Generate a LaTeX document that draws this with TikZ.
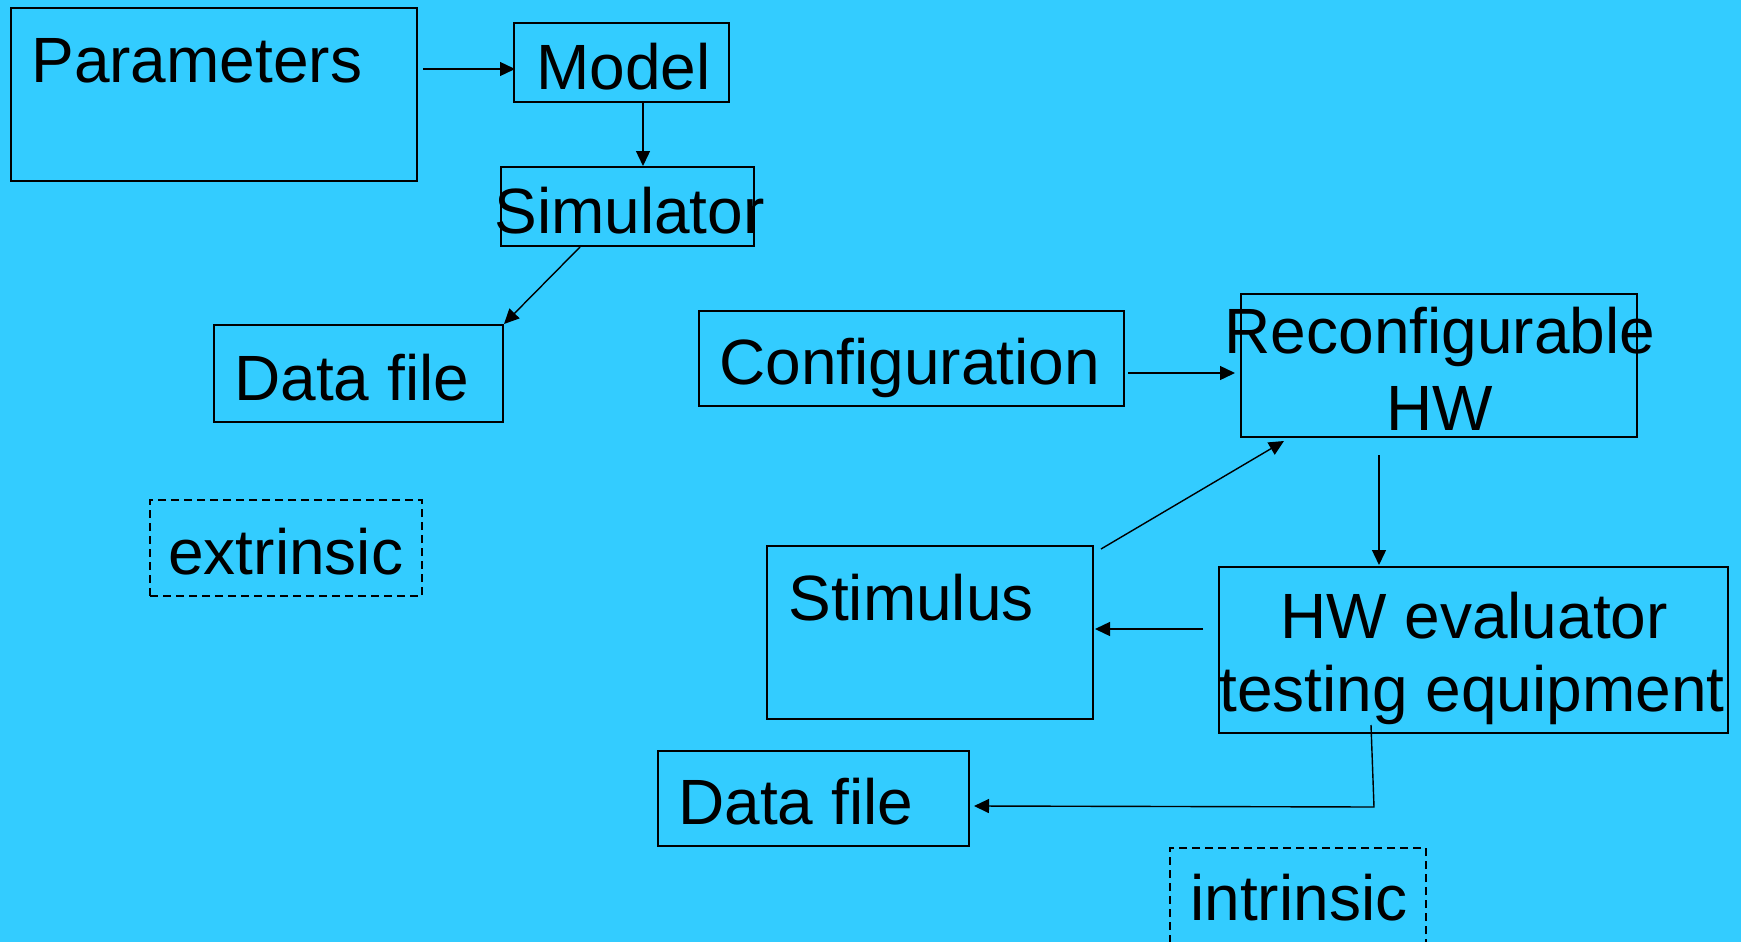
\documentclass[tikz,border=0pt]{standalone}
\usepackage{fontspec}
\setmainfont{Liberation Sans}
\usetikzlibrary{arrows.meta,calc,fit}
\definecolor{sky}{RGB}{51,204,255}
\begin{document}
\begin{tikzpicture}[x=0.5pt,y=-0.5pt,
  box/.style={draw=black, line width=1pt, inner sep=0pt, rectangle},
  tagbox/.style={box, dash pattern=on 4pt off 2.5pt},
  txt/.style={inner sep=0pt, font=\fontsize{32}{38}\selectfont, anchor=base west},
  ctxt/.style={txt, anchor=base},
  arr/.style={draw=black, line width=0.7pt, -{Triangle[length=7.5pt,width=7pt]}}]
\clip (0,0) rectangle (1741,942);
\fill[sky] (0,0) rectangle (1741,942);

% boxes
\node[box, fit={(11,8)(417,181)}] (par) {};
\node[box, fit={(514,23)(729,102)}] (model) {};
\node[box, fit={(501,167)(754,246)}] (sim) {};
\node[box, fit={(214,325)(503,422)}] (dfa) {};
\node[tagbox, fit={(150,500)(422,596)}] (ext) {};
\node[box, fit={(699,311)(1124,406)}] (conf) {};
\node[box, fit={(1241,294)(1637,437)}] (rhw) {};
\node[box, fit={(767,546)(1093,719)}] (stim) {};
\node[box, fit={(1219,567)(1728,733)}] (hwe) {};
\node[box, fit={(658,751)(969,846)}] (dfb) {};
\node[tagbox, fit={(1170,848)(1426,990)}] (intr) {};

% labels
\node[txt] at (31,83) {Parameters};
\node[txt] at (536,89) {Model};
\node[txt] at (494,233) {Simulator};
\node[txt] at (234,400) {Data file};
\node[txt] at (168,574) {extrinsic};
\node[txt] at (719,384) {Configuration};
\node[ctxt] at (1440,353) {Reconfigurable};
\node[ctxt] at (1440,430) {HW};
\node[txt] at (788,620) {Stimulus};
\node[ctxt] at (1474,638) {HW evaluator};
\node[ctxt] at (1472,711) {testing equipment};
\node[txt] at (678,824) {Data file};
\node[txt] at (1190,920) {intrinsic};

% connectors
\draw[arr] ($(par.north east)+(5,62)$) -- ($(model.north west)+(2,47)$);
\draw[arr] ($(model.south west)+(130,0)$) -- ($(sim.north west)+(143,0)$);
\draw[arr] ($(sim.south west)+(80,0)$) -- (dfa.north east);
\draw[arr] ($(conf.north east)+(3,63)$) -- ($(rhw.north west)+(-5,80)$);
\draw[arr] ($(stim.north east)+(7,4)$) -- ($(rhw.south west)+(44,3)$);
\draw[arr] ($(rhw.south west)+(139,17)$) -- ($(hwe.north west)+(161,-1)$);
\draw[arr] ($(hwe.north west)+(-15,63)$) -- ($(stim.north east)+(1,84)$);
\coordinate (bend) at ($(hwe.south west)+(156,73)$);
\draw[arr] ($(hwe.south west)+(153,-9)$) -- (bend) -- ($(dfb.east)+(4,7.5)$);
\end{tikzpicture}
\end{document}
